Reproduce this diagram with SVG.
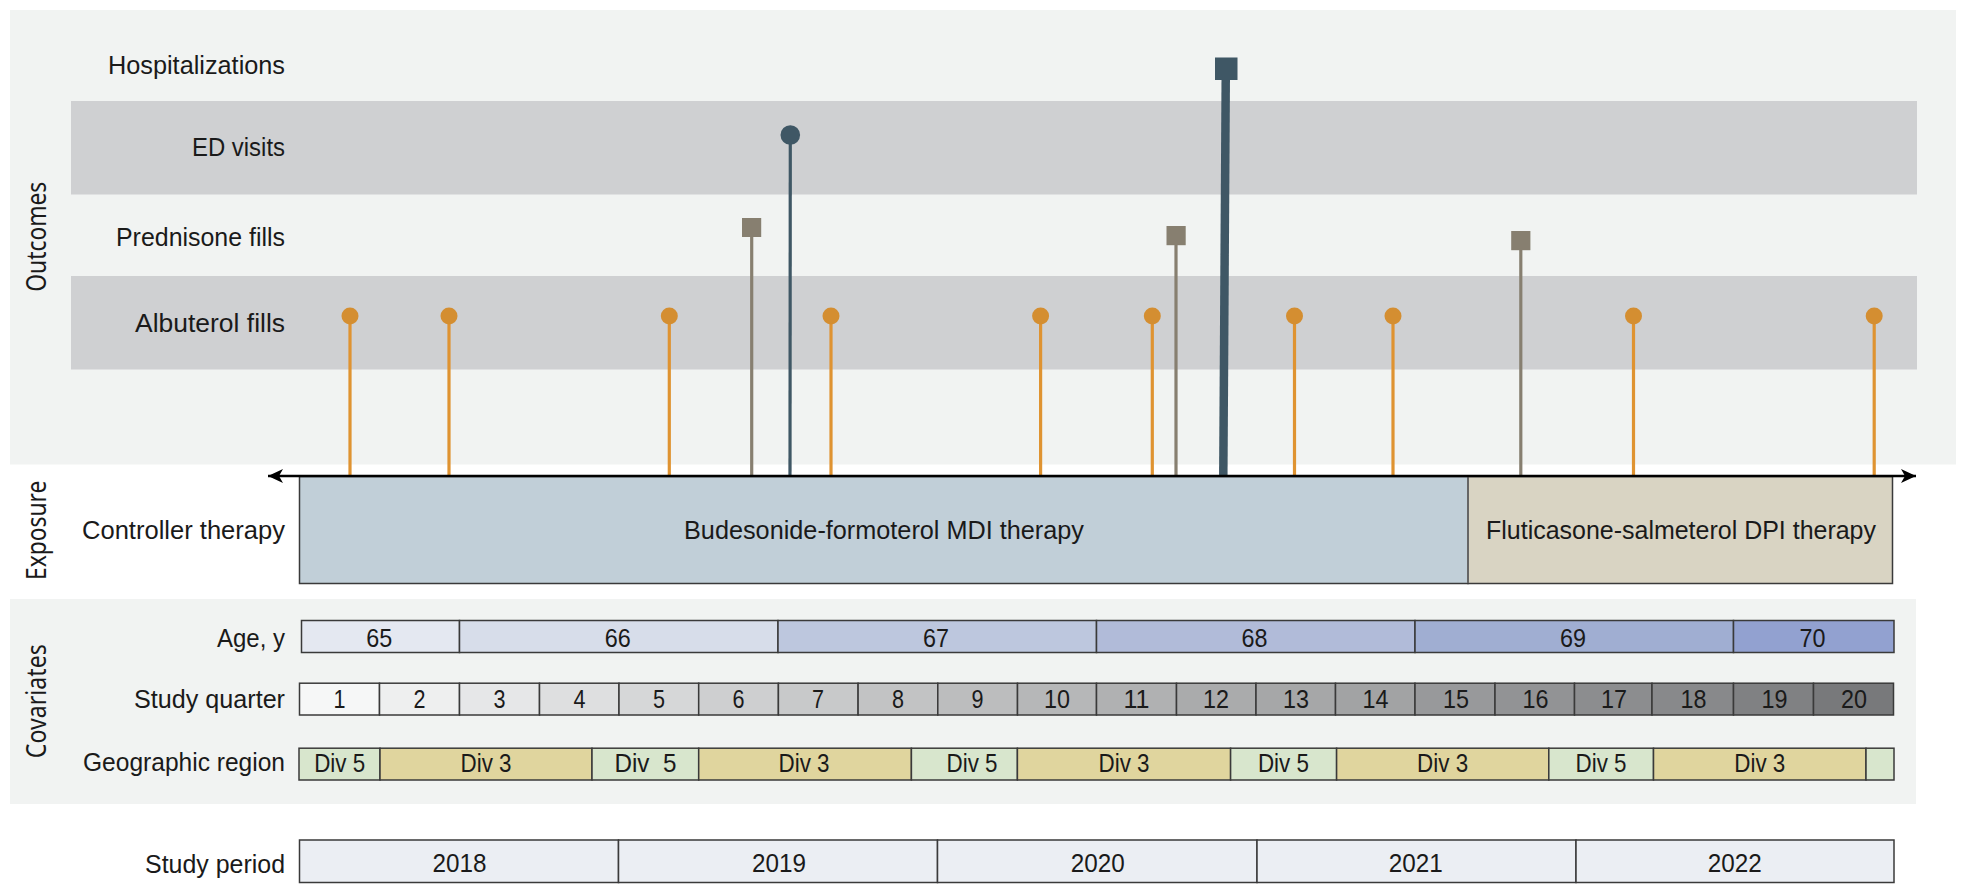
<svg xmlns="http://www.w3.org/2000/svg" width="1967" height="893" viewBox="0 0 1967 893">
<style>
text{font-family:"Liberation Sans",Arial,sans-serif;font-size:26.5px;fill:#1a1a1a}
.l{text-anchor:end}
.c{text-anchor:middle}
.n{text-anchor:middle;font-size:25px}
.r{font-family:"Noto Sans","Open Sans",sans-serif;font-size:27px;text-anchor:middle}
.cell{stroke:#3a3a3a;stroke-width:1.5}
.soft{stroke:#666;stroke-width:2}
.a{stroke:#df9331;stroke-width:3.2;fill:none}
.p{stroke:#877f70;stroke-width:3.2;fill:none}
.e{stroke:#3f5765;stroke-width:3.2;fill:none}
.h{stroke:#3f5765;stroke-width:8.5;fill:none}
.ad{fill:#d48e31}
.pd{fill:#877f70}
.dk{fill:#3f5765}
</style>
<defs>
<marker id="arr" markerWidth="16" markerHeight="14" refX="15" refY="7" orient="auto-start-reverse" markerUnits="userSpaceOnUse"><path d="M0 0L15 7L0 14L4 7Z" fill="#000"/></marker>
</defs>
<g id="backgrounds">
<rect x="10" y="10" width="1946" height="454.5" fill="#f1f3f2"/>
<rect x="71" y="101" width="1846" height="93.5" fill="#cfd0d2"/>
<rect x="71" y="276" width="1846" height="93.5" fill="#cfd0d2"/>
<rect x="10" y="599" width="1906" height="205" fill="#f1f3f2"/>
</g>
<g id="section-labels">
<text class="r" transform="translate(45.5 236.7) rotate(-90)" textLength="110" lengthAdjust="spacingAndGlyphs">Outcomes</text>
<text class="r" transform="translate(45.5 530.3) rotate(-90)" textLength="99.5" lengthAdjust="spacingAndGlyphs">Exposure</text>
<text class="r" transform="translate(45.5 701.2) rotate(-90)" textLength="114" lengthAdjust="spacingAndGlyphs">Covariates</text>
</g>
<g id="row-labels">
<text class="l" x="285" y="74" textLength="177" lengthAdjust="spacingAndGlyphs">Hospitalizations</text>
<text class="l" x="285" y="156" textLength="93" lengthAdjust="spacingAndGlyphs">ED visits</text>
<text class="l" x="285" y="245.5" textLength="169" lengthAdjust="spacingAndGlyphs">Prednisone fills</text>
<text class="l" x="285" y="332" textLength="150" lengthAdjust="spacingAndGlyphs">Albuterol fills</text>
<text class="l" x="285" y="538.5" textLength="203" lengthAdjust="spacingAndGlyphs">Controller therapy</text>
<text class="l" x="285" y="647" textLength="68" lengthAdjust="spacingAndGlyphs">Age, y</text>
<text class="l" x="285" y="708" textLength="151" lengthAdjust="spacingAndGlyphs">Study quarter</text>
<text class="l" x="285" y="771" textLength="202" lengthAdjust="spacingAndGlyphs">Geographic region</text>
<text class="l" x="285" y="873" textLength="140" lengthAdjust="spacingAndGlyphs">Study period</text>
</g>
<g id="controller-therapy">
<rect class="cell" x="299.5" y="476.5" width="1168.5" height="107" fill="#c1cfd8"/>
<rect class="cell" x="1468" y="476.5" width="424.5" height="107" fill="#d9d4c3"/>
<line class="soft" x1="1468" y1="477" x2="1468" y2="583"/>
<text class="c" x="884" y="538.5" textLength="400" lengthAdjust="spacingAndGlyphs">Budesonide-formoterol MDI therapy</text>
<text class="c" x="1681" y="538.5" textLength="390" lengthAdjust="spacingAndGlyphs">Fluticasone-salmeterol DPI therapy</text>
</g>
<g id="connectors">
<line class="a" x1="350" y1="316" x2="350" y2="475"/>
<line class="a" x1="449" y1="316" x2="449" y2="475"/>
<line class="a" x1="669.3" y1="316" x2="669.3" y2="475"/>
<line class="a" x1="831" y1="316" x2="831" y2="475"/>
<line class="a" x1="1040.6" y1="316" x2="1040.6" y2="475"/>
<line class="a" x1="1152.3" y1="316" x2="1152.3" y2="475"/>
<line class="a" x1="1294.5" y1="316" x2="1294.5" y2="475"/>
<line class="a" x1="1393" y1="316" x2="1393" y2="475"/>
<line class="a" x1="1633.5" y1="316" x2="1633.5" y2="475"/>
<line class="a" x1="1874.2" y1="316" x2="1874.2" y2="475"/>
<line class="p" x1="751.7" y1="230" x2="751.7" y2="475"/>
<line class="p" x1="1176" y1="238" x2="1176" y2="475"/>
<line class="p" x1="1520.8" y1="243" x2="1520.8" y2="475"/>
<line class="e" x1="790.3" y1="135" x2="790" y2="475"/>
<line class="h" x1="1225.8" y1="70" x2="1223.3" y2="475"/>
<line x1="268" y1="476" x2="1916" y2="476" stroke="#000" stroke-width="2.5" marker-start="url(#arr)" marker-end="url(#arr)"/>
</g>
<g id="markers">
<circle class="ad" cx="350" cy="316" r="8.5"/>
<circle class="ad" cx="449" cy="316" r="8.5"/>
<circle class="ad" cx="669.3" cy="316" r="8.5"/>
<circle class="ad" cx="831" cy="316" r="8.5"/>
<circle class="ad" cx="1040.6" cy="316" r="8.5"/>
<circle class="ad" cx="1152.3" cy="316" r="8.5"/>
<circle class="ad" cx="1294.5" cy="316" r="8.5"/>
<circle class="ad" cx="1393" cy="316" r="8.5"/>
<circle class="ad" cx="1633.5" cy="316" r="8.5"/>
<circle class="ad" cx="1874.2" cy="316" r="8.5"/>
<rect class="pd" x="742" y="218" width="19.2" height="19"/>
<rect class="pd" x="1166.5" y="226" width="19.2" height="19.2"/>
<rect class="pd" x="1511.2" y="231" width="19.2" height="19.2"/>
<circle class="dk" cx="790.3" cy="135" r="9.8"/>
<rect class="dk" x="1215" y="57.5" width="22.5" height="22.5"/>
</g>
<g id="age">
<rect class="cell" x="301.5" y="620.5" width="158" height="32" fill="#e4e8f1"/>
<rect class="cell" x="459.5" y="620.5" width="318.5" height="32" fill="#d7ddea"/>
<rect class="cell" x="778" y="620.5" width="318.5" height="32" fill="#bdc7de"/>
<rect class="cell" x="1096.5" y="620.5" width="318.5" height="32" fill="#b1bbd9"/>
<rect class="cell" x="1415" y="620.5" width="318.5" height="32" fill="#a0aed2"/>
<rect class="cell" x="1733.5" y="620.5" width="160.5" height="32" fill="#92a1d0"/>
<text class="n" x="379.3" y="647" textLength="26" lengthAdjust="spacingAndGlyphs">65</text>
<text class="n" x="617.8" y="647" textLength="26" lengthAdjust="spacingAndGlyphs">66</text>
<text class="n" x="936" y="647" textLength="26" lengthAdjust="spacingAndGlyphs">67</text>
<text class="n" x="1254.5" y="647" textLength="26" lengthAdjust="spacingAndGlyphs">68</text>
<text class="n" x="1573" y="647" textLength="26" lengthAdjust="spacingAndGlyphs">69</text>
<text class="n" x="1812.5" y="647" textLength="26" lengthAdjust="spacingAndGlyphs">70</text>
</g>
<g id="study-quarter">
<rect class="cell" x="299.5" y="683.2" width="80" height="31.8" fill="#f6f7f7"/>
<rect class="cell" x="379.5" y="683.2" width="80" height="31.8" fill="#eeefef"/>
<rect class="cell" x="459.5" y="683.2" width="80" height="31.8" fill="#e6e7e8"/>
<rect class="cell" x="539.5" y="683.2" width="79.5" height="31.8" fill="#dedfe0"/>
<rect class="cell" x="619" y="683.2" width="79.7" height="31.8" fill="#d6d7d8"/>
<rect class="cell" x="698.7" y="683.2" width="79.7" height="31.8" fill="#cecfd0"/>
<rect class="cell" x="778.4" y="683.2" width="79.7" height="31.8" fill="#c8c9ca"/>
<rect class="cell" x="858.1" y="683.2" width="79.7" height="31.8" fill="#c2c3c4"/>
<rect class="cell" x="937.8" y="683.2" width="79.7" height="31.8" fill="#bcbdbe"/>
<rect class="cell" x="1017.5" y="683.2" width="79" height="31.8" fill="#b6b7b8"/>
<rect class="cell" x="1096.5" y="683.2" width="80" height="31.8" fill="#b0b1b2"/>
<rect class="cell" x="1176.5" y="683.2" width="79.5" height="31.8" fill="#aaabac"/>
<rect class="cell" x="1256" y="683.2" width="79.5" height="31.8" fill="#a6a7a8"/>
<rect class="cell" x="1335.5" y="683.2" width="79.5" height="31.8" fill="#a2a3a4"/>
<rect class="cell" x="1415" y="683.2" width="80" height="31.8" fill="#98999b"/>
<rect class="cell" x="1495" y="683.2" width="79.5" height="31.8" fill="#929395"/>
<rect class="cell" x="1574.5" y="683.2" width="77.5" height="31.8" fill="#8c8d8f"/>
<rect class="cell" x="1652" y="683.2" width="81.5" height="31.8" fill="#88898b"/>
<rect class="cell" x="1733.5" y="683.2" width="80" height="31.8" fill="#808183"/>
<rect class="cell" x="1813.5" y="683.2" width="80" height="31.8" fill="#78797b"/>
<text class="n" x="339.5" y="708" textLength="12" lengthAdjust="spacingAndGlyphs">1</text>
<text class="n" x="419.5" y="708" textLength="12" lengthAdjust="spacingAndGlyphs">2</text>
<text class="n" x="499.5" y="708" textLength="12" lengthAdjust="spacingAndGlyphs">3</text>
<text class="n" x="579.5" y="708" textLength="12" lengthAdjust="spacingAndGlyphs">4</text>
<text class="n" x="659" y="708" textLength="12" lengthAdjust="spacingAndGlyphs">5</text>
<text class="n" x="738.5" y="708" textLength="12" lengthAdjust="spacingAndGlyphs">6</text>
<text class="n" x="818" y="708" textLength="12" lengthAdjust="spacingAndGlyphs">7</text>
<text class="n" x="898" y="708" textLength="12" lengthAdjust="spacingAndGlyphs">8</text>
<text class="n" x="977.5" y="708" textLength="12" lengthAdjust="spacingAndGlyphs">9</text>
<text class="n" x="1057" y="708" textLength="26" lengthAdjust="spacingAndGlyphs">10</text>
<text class="n" x="1136.5" y="708" textLength="26" lengthAdjust="spacingAndGlyphs">11</text>
<text class="n" x="1216" y="708" textLength="26" lengthAdjust="spacingAndGlyphs">12</text>
<text class="n" x="1296" y="708" textLength="26" lengthAdjust="spacingAndGlyphs">13</text>
<text class="n" x="1375.5" y="708" textLength="26" lengthAdjust="spacingAndGlyphs">14</text>
<text class="n" x="1456" y="708" textLength="26" lengthAdjust="spacingAndGlyphs">15</text>
<text class="n" x="1535.5" y="708" textLength="26" lengthAdjust="spacingAndGlyphs">16</text>
<text class="n" x="1614" y="708" textLength="26" lengthAdjust="spacingAndGlyphs">17</text>
<text class="n" x="1693.5" y="708" textLength="26" lengthAdjust="spacingAndGlyphs">18</text>
<text class="n" x="1774.5" y="708" textLength="26" lengthAdjust="spacingAndGlyphs">19</text>
<text class="n" x="1854" y="708" textLength="26" lengthAdjust="spacingAndGlyphs">20</text>
</g>
<g id="geographic-region">
<rect class="cell" x="299" y="748.2" width="81" height="31.8" fill="#d8e6cd"/>
<rect class="cell" x="380" y="748.2" width="212" height="31.8" fill="#e0d59e"/>
<rect class="cell" x="592" y="748.2" width="106.7" height="31.8" fill="#d8e6cd"/>
<rect class="cell" x="698.7" y="748.2" width="212.7" height="31.8" fill="#e0d59e"/>
<rect class="cell" x="911.4" y="748.2" width="106" height="31.8" fill="#d8e6cd"/>
<rect class="cell" x="1017.4" y="748.2" width="213.2" height="31.8" fill="#e0d59e"/>
<rect class="cell" x="1230.6" y="748.2" width="106" height="31.8" fill="#d8e6cd"/>
<rect class="cell" x="1336.6" y="748.2" width="212.2" height="31.8" fill="#e0d59e"/>
<rect class="cell" x="1548.8" y="748.2" width="104.7" height="31.8" fill="#d8e6cd"/>
<rect class="cell" x="1653.5" y="748.2" width="212.5" height="31.8" fill="#e0d59e"/>
<rect class="cell" x="1866" y="748.2" width="28" height="31.8" fill="#d8e6cd"/>
<text class="n" x="339.7" y="771.5" textLength="51" lengthAdjust="spacingAndGlyphs">Div 5</text>
<text class="n" x="486" y="771.5" textLength="51" lengthAdjust="spacingAndGlyphs">Div 3</text>
<text class="n" x="645.4" y="771.5" xml:space="preserve" textLength="62" lengthAdjust="spacingAndGlyphs">Div  5</text>
<text class="n" x="804" y="771.5" textLength="51" lengthAdjust="spacingAndGlyphs">Div 3</text>
<text class="n" x="972" y="771.5" textLength="51" lengthAdjust="spacingAndGlyphs">Div 5</text>
<text class="n" x="1124" y="771.5" textLength="51" lengthAdjust="spacingAndGlyphs">Div 3</text>
<text class="n" x="1283.4" y="771.5" textLength="51" lengthAdjust="spacingAndGlyphs">Div 5</text>
<text class="n" x="1442.6" y="771.5" textLength="51" lengthAdjust="spacingAndGlyphs">Div 3</text>
<text class="n" x="1601" y="771.5" textLength="51" lengthAdjust="spacingAndGlyphs">Div 5</text>
<text class="n" x="1759.8" y="771.5" textLength="51" lengthAdjust="spacingAndGlyphs">Div 3</text>
</g>
<g id="study-period">
<rect class="cell" x="299.5" y="840" width="319" height="42.5" fill="#ebeef3"/>
<rect class="cell" x="618.5" y="840" width="319" height="42.5" fill="#ebeef3"/>
<rect class="cell" x="937.5" y="840" width="319.5" height="42.5" fill="#ebeef3"/>
<rect class="cell" x="1257" y="840" width="319" height="42.5" fill="#ebeef3"/>
<rect class="cell" x="1576" y="840" width="318" height="42.5" fill="#ebeef3"/>
<text class="n" x="459.6" y="871.5" textLength="54" lengthAdjust="spacingAndGlyphs">2018</text>
<text class="n" x="779" y="871.5" textLength="54" lengthAdjust="spacingAndGlyphs">2019</text>
<text class="n" x="1097.7" y="871.5" textLength="54" lengthAdjust="spacingAndGlyphs">2020</text>
<text class="n" x="1415.7" y="871.5" textLength="54" lengthAdjust="spacingAndGlyphs">2021</text>
<text class="n" x="1734.7" y="871.5" textLength="54" lengthAdjust="spacingAndGlyphs">2022</text>
</g>
</svg>
